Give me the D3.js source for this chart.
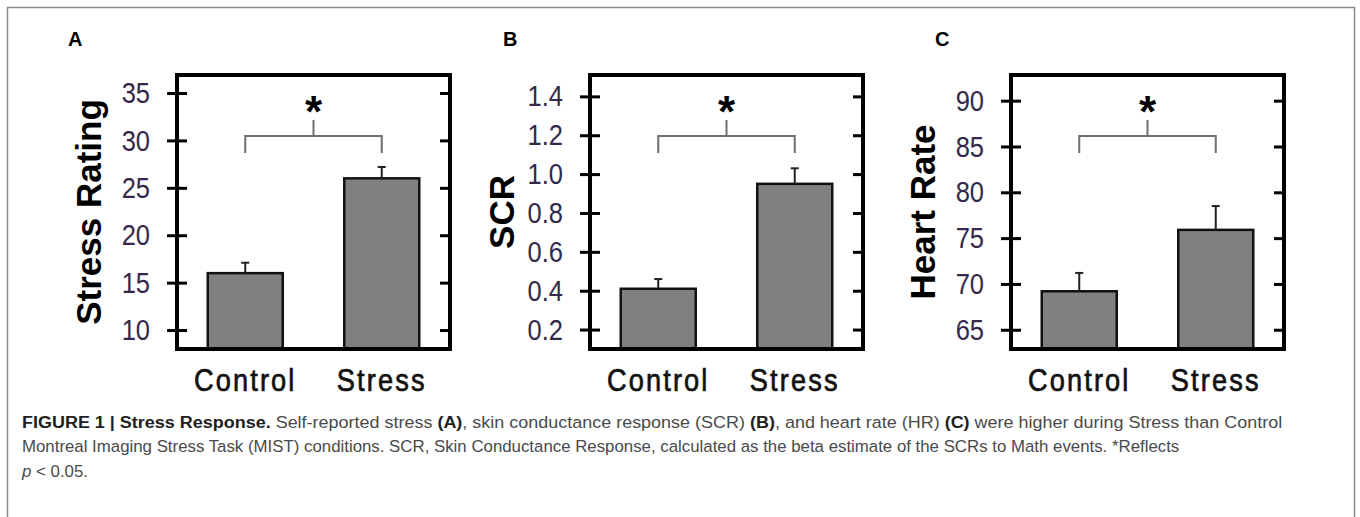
<!DOCTYPE html>
<html>
<head>
<meta charset="utf-8">
<script src="https://cdn.jsdelivr.net/npm/d3@7"></script>
<style>
  body { margin: 0; background: #fff; }
  svg { display: block; }
</style>
</head>
<body>
<svg id="fig" width="1360" height="517"></svg>
<script>
// data
var categories = ["Control", "Stress"];

var stressRating = [16, 26];
var stressRatingErr = [1.1, 1.2];
var scr = [0.41, 0.95];
var scrErr = [0.05, 0.08];
var heartRate = [69.2, 75.9];
var heartRateErr = [2.0, 2.6];

var stressTicks = [10, 15, 20, 25, 30, 35];
var scrTicks = [0.2, 0.4, 0.6, 0.8, 1.0, 1.2, 1.4];
var hrTicks = [65, 70, 75, 80, 85, 90];

var panelLetters = ["A", "B", "C"];
var axisTitles = ["Stress Rating", "SCR", "Heart Rate"];

var captionLines = [
    [["FIGURE 1 | Stress Response.", "b"], [" Self-reported stress ", ""], ["(A)", "b"],
     [", skin conductance response (SCR) ", ""], ["(B)", "b"], [", and heart rate (HR) ", ""],
     ["(C)", "b"], [" were higher during Stress than Control", ""]],
    [["Montreal Imaging Stress Task (MIST) conditions. SCR, Skin Conductance Response, calculated as the beta estimate of the SCRs to Math events. *Reflects", ""]],
    [["p", "i"], [" < 0.05.", ""]]
];

var panels = [
    { values: stressRating, errors: stressRatingErr, ticks: stressTicks, domain: [8, 36.9], fmt: d3.format("d"), left: 177, letterX: 68 },
    { values: scr, errors: scrErr, ticks: scrTicks, domain: [0.1, 1.51], fmt: d3.format(".1f"), left: 590, letterX: 503 },
    { values: heartRate, errors: heartRateErr, ticks: hrTicks, domain: [62.9, 92.8], fmt: d3.format("d"), left: 1011, letterX: 935 }
];

var svg = d3.select("#fig"),
    plotTop = 75,
    plotBottom = 349,
    plotW = 273,
    barW = 75,
    squeeze = 0.85, // no narrow font installed, so squash the regular one
    sans = "'Liberation Sans', Arial, sans-serif";

// outer figure border
svg.append("rect")
    .attr("x", 7.5).attr("y", 7.5)
    .attr("width", 1347).attr("height", 600)
    .attr("fill", "none")
    .attr("stroke", "#8a8a8a")
    .attr("stroke-width", 1.5);

panels.forEach(function (p, i) {
    var g = svg.append("g").attr("transform", "translate(" + p.left + ",0)"),
        x = d3.scalePoint().domain(categories).range([0, plotW]).padding(0.5),
        y = d3.scaleLinear().domain(p.domain).range([plotBottom, plotTop]),
        left, right;

    // bars
    g.selectAll("rect.bar")
        .data(p.values)
        .enter()
        .append("rect")
        .attr("class", "bar")
        .attr("x", function (d, j) { return x(categories[j]) - barW / 2; })
        .attr("y", function (d) { return y(d); })
        .attr("width", barW)
        .attr("height", function (d) { return plotBottom - y(d); })
        .attr("fill", "#808080")
        .attr("stroke", "#111")
        .attr("stroke-width", 2.5);

    // error bars (upper half only)
    var eb = g.selectAll("g.err")
        .data(p.values)
        .enter()
        .append("g")
        .attr("class", "err")
        .attr("stroke", "#222")
        .attr("stroke-width", 2);
    eb.append("line")
        .attr("x1", function (d, j) { return x(categories[j]); })
        .attr("x2", function (d, j) { return x(categories[j]); })
        .attr("y1", function (d) { return y(d); })
        .attr("y2", function (d, j) { return y(d + p.errors[j]); });
    eb.append("line")
        .attr("x1", function (d, j) { return x(categories[j]) - 4; })
        .attr("x2", function (d, j) { return x(categories[j]) + 4; })
        .attr("y1", function (d, j) { return y(d + p.errors[j]); })
        .attr("y2", function (d, j) { return y(d + p.errors[j]); });

    // left axis, ticks cross the frame
    left = g.append("g")
        .call(d3.axisLeft(y).tickValues(p.ticks).tickFormat(p.fmt).tickSize(10).tickPadding(17));
    left.select(".domain").remove();
    left.selectAll(".tick line").attr("x1", 10).attr("stroke", "#000").attr("stroke-width", 3);
    left.selectAll(".tick text")
        .attr("x", -27 / squeeze)
        .attr("transform", "scale(" + squeeze + ",1)")
        .attr("fill", "#33294a")
        .style("font-family", sans)
        .style("font-size", "30px");

    // right axis, inward ticks only
    right = g.append("g")
        .attr("transform", "translate(" + plotW + ",0)")
        .call(d3.axisRight(y).tickValues(p.ticks).tickSize(-10).tickFormat(""));
    right.select(".domain").remove();
    right.selectAll(".tick line").attr("stroke", "#000").attr("stroke-width", 3);

    // frame
    g.append("rect")
        .attr("x", 0).attr("y", plotTop)
        .attr("width", plotW).attr("height", plotBottom - plotTop)
        .attr("fill", "none")
        .attr("stroke", "#000")
        .attr("stroke-width", 4);

    // significance bracket
    var bx0 = x(categories[0]), bx1 = x(categories[1]), bm = (bx0 + bx1) / 2;
    g.append("path")
        .attr("d", "M" + bx0 + ",153V136H" + bx1 + "V153M" + bm + ",136V120")
        .attr("fill", "none")
        .attr("stroke", "#6e6e6e")
        .attr("stroke-width", 2);
    g.append("text")
        .attr("x", bm).attr("y", 127)
        .attr("text-anchor", "middle")
        .style("font-family", sans)
        .style("font-size", "44px")
        .style("font-weight", "bold")
        .text("*");

    // category labels
    g.selectAll("text.cat")
        .data(categories)
        .enter()
        .append("text")
        .attr("class", "cat")
        .attr("transform", function (d) { return "translate(" + x(d) + ",391) scale(" + squeeze + ",1)"; })
        .attr("text-anchor", "middle")
        .attr("fill", "#111")
        .attr("stroke", "#111")
        .attr("stroke-width", 0.7)
        .style("font-family", sans)
        .style("font-size", "32px")
        .style("letter-spacing", "2.5px")
        .text(function (d) { return d; });

    // y axis title
    g.append("text")
        .attr("transform", "translate(-76," + (plotTop + plotBottom) / 2 + ") rotate(-90)")
        .attr("text-anchor", "middle")
        .style("font-family", sans)
        .style("font-size", "35px")
        .style("font-weight", "bold")
        .text(axisTitles[i]);

    // panel letter
    svg.append("text")
        .attr("x", p.letterX).attr("y", 46)
        .style("font-family", sans)
        .style("font-size", "20px")
        .style("font-weight", "bold")
        .text(panelLetters[i]);
});

// caption, squeezed to the width of the printed lines
var capWidths = [1261, 1158],
    capBase = [428, 452, 477],
    capScale = 1;

captionLines.forEach(function (line, k) {
    var t = svg.append("text")
        .attr("x", 0).attr("y", 0)
        .style("font-family", sans)
        .style("font-size", "17px")
        .attr("fill", "#4a4a4a");
    line.forEach(function (part) {
        var s = t.append("tspan").text(part[0]);
        if (part[1] === "b") s.style("font-weight", "bold").attr("fill", "#1e1e1e");
        if (part[1] === "i") s.style("font-style", "italic");
    });
    if (k < capWidths.length) capScale = capWidths[k] / t.node().getComputedTextLength();
    t.attr("transform", "translate(22," + capBase[k] + ") scale(" + capScale + ",1)");
});
</script>
</body>
</html>
